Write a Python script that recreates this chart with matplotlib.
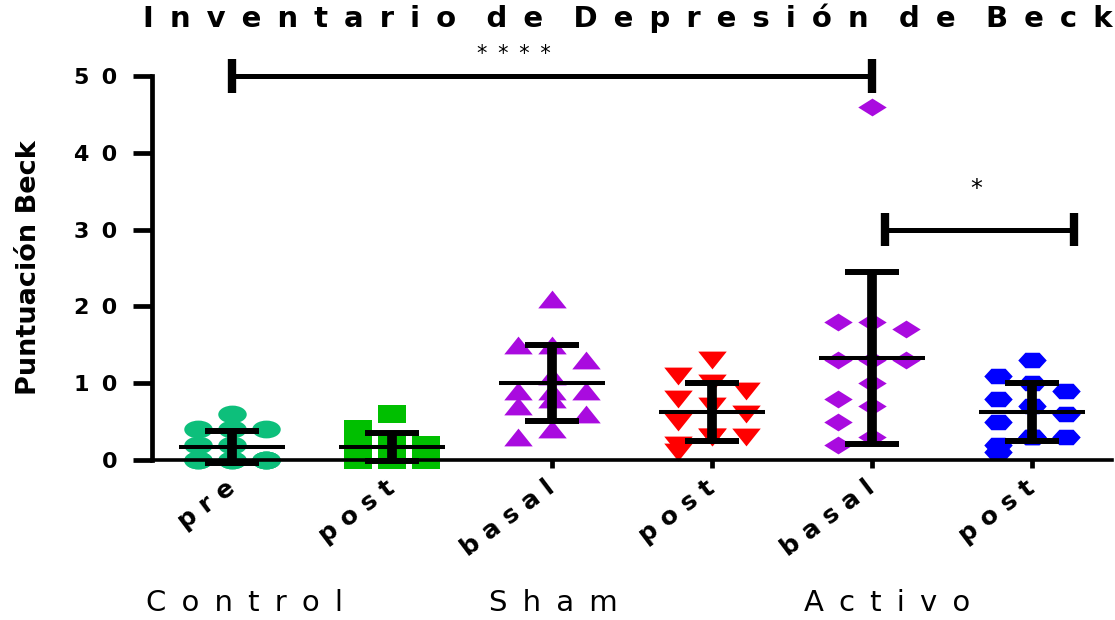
import matplotlib.pyplot as plt
import numpy as np
from matplotlib.path import Path
from matplotlib.transforms import Affine2D

# Beck scores per group
categories = ["pre", "post", "basal", "post", "basal", "post"]
groups = ["Control", "Sham", "Activo"]

control_pre = [6, 4, 4, 4, 2, 2, 0, 0, 0, 0, 0, 0, 0]
control_post = [6, 4, 2, 2, 2, 2, 2, 2, 0, 0, 0, 0, 0]
sham_basal = [21, 15, 15, 13, 11, 9, 9, 9, 8, 7, 6, 4, 3]
sham_post = [13, 11, 10, 9, 8, 7, 6, 5, 3, 3, 3, 2, 1]
activo_basal = [46, 18, 18, 17, 13, 13, 13, 10, 8, 7, 5, 3, 2]
activo_post = [13, 11, 10, 9, 8, 7, 6, 5, 3, 3, 3, 2, 1]

series = [control_pre, control_post, sham_basal, sham_post, activo_basal, activo_post]
colors = ["#0DBF7B", "#00BF00", "#A90BDF", "#FF0000", "#A90BDF", "#0000FF"]

# significance brackets: (from, to, level, label)
brackets = [(0.0, 4.0, 50, "****"), (4.08, 5.26, 30, "*")]

THIN = "\u2009"


def spaced(text, sep=" ", wsep="   "):
    return wsep.join(sep.join(w) for w in text.split(" "))


def stretched(verts, sx=1.6):
    v = np.asarray(verts, float) * [sx, 1.0]
    return Path(np.vstack([v, v[:1]]), closed=True)


h6 = [(1, 0), (0.5, 0.87), (-0.5, 0.87), (-1, 0), (-0.5, -0.87), (0.5, -0.87)]
markers = [
    Path.unit_circle().transformed(Affine2D().scale(1.6, 1.0)),
    stretched([(-1, -1), (1, -1), (1, 1), (-1, 1)]),
    stretched([(0, 1), (-1, -1), (1, -1)]),
    stretched([(0, -1), (-1, 1), (1, 1)]),
    stretched([(0, 1), (1, 0), (0, -1), (-1, 0)]),
    stretched(h6),
]


def swarm_offsets(values, sx, sy, w=28, h=17, step=17, max_k=2):
    cands = [0]
    for k in range(1, max_k + 1):
        cands += [-k * step, k * step]
    pts, offsets = [], []
    for v in values:
        y = v * sy
        best, best_n = None, None
        for c in cands:
            n = sum(1 for px, py in pts if abs(c - px) < w and abs(y - py) < h)
            if n == 0:
                best = c
                break
            if best_n is None or n < best_n:
                best, best_n = c, n
        pts.append((best, y))
        offsets.append(best / sx)
    return offsets


fig = plt.figure(figsize=(11.15, 6.2), dpi=100)
ax = fig.add_axes([152 / 1115, 160 / 620, 960 / 1115, 384 / 620])
ax.set_xlim(-0.5, 5.5)
ax.set_ylim(0, 50)

bbox = ax.get_window_extent()
sx = bbox.width / 6.0
sy = bbox.height / 50.0

for i, vals in enumerate(series):
    offs = swarm_offsets(vals, sx, sy)
    ax.plot(np.array(offs) + i, vals, linestyle="none", marker=markers[i],
            markersize=20.5, color=colors[i], markeredgewidth=0,
            clip_on=False, zorder=2)
    m = np.mean(vals)
    sd = np.std(vals, ddof=1)
    ax.errorbar(i, m, yerr=sd, fmt="none", ecolor="black", elinewidth=7,
                capsize=19.5, capthick=4.3, clip_on=False, zorder=3)
    ax.hlines(m, i - 0.33, i + 0.33, color="black", lw=2.9, zorder=3)

for x0, x1, lvl, lab in brackets:
    ax.plot([x0, x1], [lvl, lvl], color="black", lw=3.6, clip_on=False,
            solid_capstyle="butt")
    ax.vlines([x0, x1], lvl - 2.2, lvl + 2.2, color="black", lw=6,
              clip_on=False)

ax.text(1.76, 52.8, spaced("****", " " + THIN), ha="center", va="center",
        fontsize=15)
ax.text(4.65, 35.3, "*", ha="center", va="center", fontsize=17)

ax.spines["top"].set_visible(False)
ax.spines["right"].set_visible(False)
ax.spines["left"].set_linewidth(3.4)
ax.spines["bottom"].set_linewidth(2.6)

yt = [0, 10, 20, 30, 40, 50]
ax.set_yticks(yt)
ax.set_yticklabels([spaced(str(t), " " + THIN) for t in yt], fontsize=16,
                   fontweight="bold")
ax.tick_params(axis="y", length=13.7, width=3.4, pad=11)

ax.set_xticks(range(len(categories)))
ax.set_xticklabels([spaced(c) for c in categories], rotation=37, ha="right",
                   va="center", rotation_mode="anchor", fontsize=18,
                   fontweight="bold")
ax.tick_params(axis="x", length=6, width=3.4, pad=12)

ax.set_ylabel("Puntuación Beck", fontsize=19.5, fontweight="bold")
ax.yaxis.set_label_coords(-0.115, 0.5)

fig.text(628 / 1115, 1 - 18 / 620,
         spaced("Inventario de Depresión de Beck", " " + THIN, "   "),
         ha="center", va="center", fontsize=21, fontweight="bold")

group_x = [244, 553, 887]
for gx, g in zip(group_x, groups):
    fig.text(gx / 1115, 1 - 603 / 620, spaced(g, " " + THIN), ha="center",
             va="center", fontsize=21)

fig.savefig("out.png", dpi=100)
